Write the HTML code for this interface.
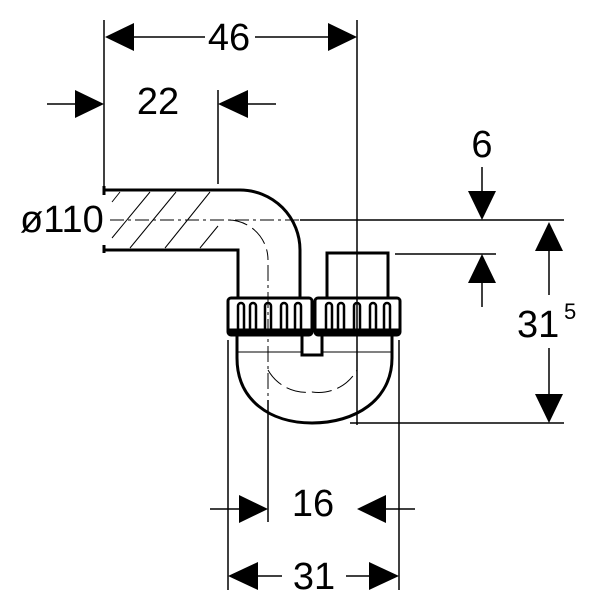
<!DOCTYPE html>
<html><head><style>body{margin:0;background:#fff}svg{display:block}text{font-family:"Liberation Sans",sans-serif;fill:#000}</style></head><body>
<svg width="600" height="600" viewBox="0 0 600 600" xmlns="http://www.w3.org/2000/svg">
<g stroke="#000" stroke-width="1.5" fill="none">
<line x1="104" y1="20" x2="104" y2="190"/>
<line x1="357" y1="20" x2="357" y2="425"/>
<line x1="218" y1="90" x2="218" y2="184"/>
<line x1="47" y1="104" x2="80" y2="104"/>
<line x1="244" y1="104" x2="276" y2="104"/>
<line x1="130" y1="37" x2="205" y2="37"/>
<line x1="255" y1="37" x2="330" y2="37"/>
<line x1="300" y1="220" x2="564" y2="220"/>
<line x1="395" y1="254" x2="496" y2="254"/>
<line x1="350" y1="423" x2="564" y2="423"/>
<line x1="482" y1="167" x2="482" y2="195"/>
<line x1="482" y1="280" x2="482" y2="307"/>
<line x1="549" y1="245" x2="549" y2="295"/>
<line x1="549" y1="348" x2="549" y2="398"/>
<line x1="228" y1="340" x2="228" y2="590"/>
<line x1="399" y1="340" x2="399" y2="590"/>
<line x1="268" y1="400" x2="268" y2="522"/>
<line x1="210" y1="509" x2="240" y2="509"/>
<line x1="385" y1="509" x2="415" y2="509"/>
<line x1="255" y1="576" x2="282" y2="576"/>
<line x1="346" y1="576" x2="372" y2="576"/>
<line x1="110" y1="220" x2="300" y2="220" stroke-dasharray="14,4,3,4" stroke-width="1"/>
<line x1="268" y1="265" x2="268" y2="400" stroke-dasharray="16,4,3,4" stroke-width="1"/>
<line x1="357" y1="250" x2="357" y2="400" stroke-dasharray="16,4,3,4" stroke-width="1"/>
<path d="M228 220 A40 40 0 0 1 268 260" stroke-width="1" stroke-dasharray="20,6"/>
<path d="M268 370 A44 44 0 0 0 312 392 A44 44 0 0 0 357 370" stroke-width="1" stroke-dasharray="20,6"/>
<g stroke-width="1">
<line x1="112" y1="202" x2="120" y2="192"/><line x1="112" y1="238" x2="150" y2="192"/>
<line x1="130" y1="248" x2="176" y2="192"/><line x1="165" y1="248" x2="210" y2="192"/>
<line x1="200" y1="248" x2="218" y2="226"/>
</g>
<g stroke-width="3">
<path d="M104 190 H240 A60 60 0 0 1 300 250 V298"/>
<path d="M104 250 H238 V298"/>
<line x1="104" y1="186" x2="104" y2="195"/><line x1="104" y1="245" x2="104" y2="253"/>
<path d="M327 298 V253 H388 V298"/>
<rect x="228" y="298" width="84" height="37" rx="3"/>
<rect x="315" y="298" width="85" height="37" rx="3"/>
<path d="M237 336 V358 M302 336 V355 H322 V336 M392 336 V358"/>
<path d="M237 358 C237 400 270 423 312 423 C355 423 392 400 392 358"/>
</g>
<line x1="228" y1="331" x2="312" y2="331" stroke-width="5"/>
<line x1="315" y1="331" x2="400" y2="331" stroke-width="5"/>
<line x1="237" y1="352" x2="302" y2="352" stroke-width="1"/>
<line x1="322" y1="352" x2="392" y2="352" stroke-width="1"/>
<g stroke-width="2.5">
<path d="M238 330 V306 a3 3 0 0 1 6 0 V330"/><path d="M250 330 V306 a3 3 0 0 1 6 0 V330"/>
<path d="M265 330 V306 a3 3 0 0 1 6 0 V330"/><path d="M281 330 V306 a3 3 0 0 1 6 0 V330"/>
<path d="M295 330 V306 a3 3 0 0 1 6 0 V330"/>
<path d="M326 330 V306 a3 3 0 0 1 6 0 V330"/><path d="M338 330 V306 a3 3 0 0 1 6 0 V330"/>
<path d="M354 330 V306 a3 3 0 0 1 6 0 V330"/><path d="M370 330 V306 a3 3 0 0 1 6 0 V330"/>
<path d="M384 330 V306 a3 3 0 0 1 6 0 V330"/>
</g>
</g>
<g fill="#000">
<polygon points="105,37 134,23 134,51"/><polygon points="357,37 328,23 328,51"/>
<polygon points="104,104 75,90 75,118"/><polygon points="218,104 248,90 248,118"/>
<polygon points="482,220 468,191 496,191"/><polygon points="482,254 468,283 496,283"/>
<polygon points="549,222 535,251 563,251"/><polygon points="549,423 535,394 563,394"/>
<polygon points="268,509 239,495 239,523"/><polygon points="357,509 386,495 386,523"/>
<polygon points="228,576 258,562 258,590"/><polygon points="399,576 369,562 369,590"/>
</g>
<g font-size="38">
<text x="229" y="50" text-anchor="middle">46</text>
<text x="158" y="114" text-anchor="middle">22</text>
<text x="20" y="232">ø110</text>
<text x="482" y="157" text-anchor="middle">6</text>
<text x="517" y="337">31</text>
<text x="564" y="319" font-size="22">5</text>
<text x="313" y="516" text-anchor="middle">16</text>
<text x="314" y="589" text-anchor="middle">31</text>
</g>
</svg>
</body></html>
